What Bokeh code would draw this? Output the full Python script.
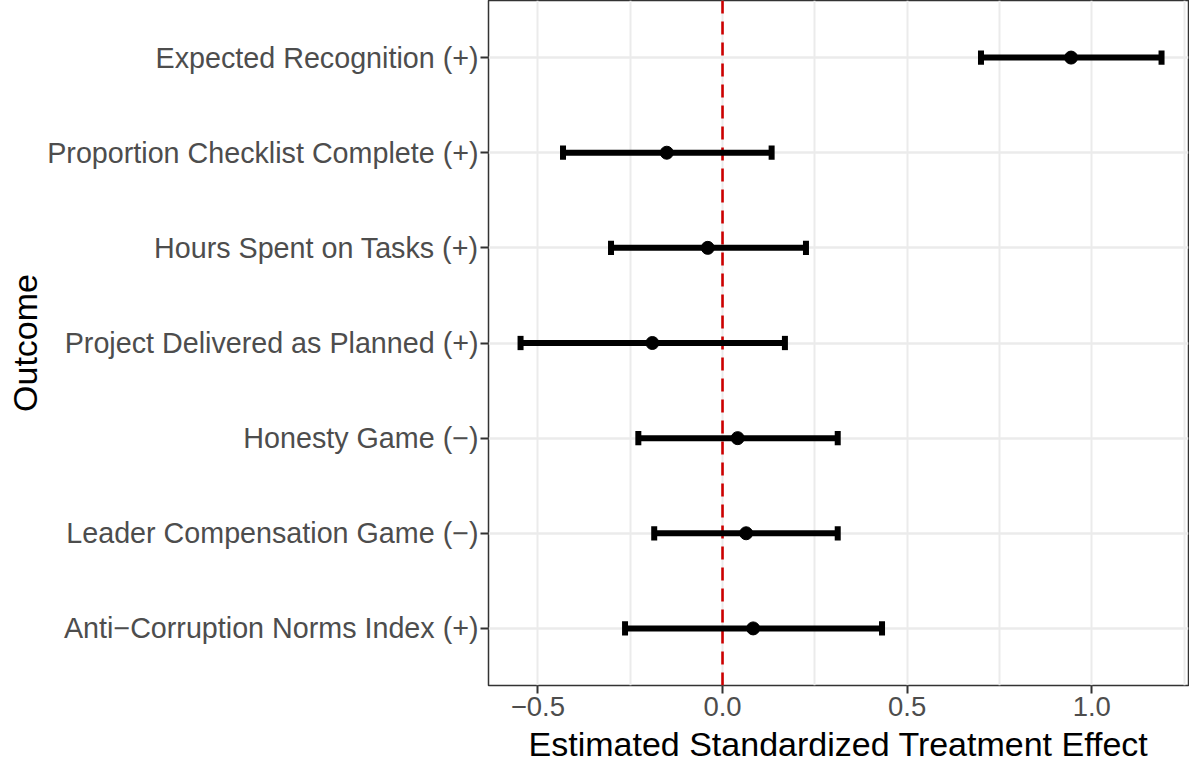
from bokeh.plotting import figure
from bokeh.models import Range1d, FixedTicker, Span, ColumnDataSource, CustomJSTickFormatter
from bokeh.embed import file_html
from bokeh.resources import INLINE

# ---- data ----
outcomes = [
    "Expected Recognition (+)",
    "Proportion Checklist Complete (+)",
    "Hours Spent on Tasks (+)",
    "Project Delivered as Planned (+)",
    "Honesty Game (\u2212)",
    "Leader Compensation Game (\u2212)",
    "Anti\u2212Corruption Norms Index (+)",
]
estimates = [0.944, -0.151, -0.040, -0.190, 0.041, 0.064, 0.083]
lower = [0.700, -0.432, -0.302, -0.547, -0.228, -0.185, -0.264]
upper = [1.189, 0.133, 0.226, 0.169, 0.312, 0.312, 0.432]
x_ticks = [-0.5, 0.0, 0.5, 1.0]
x_minor = [-0.25, 0.25, 0.75, 1.25]

# ---- layout helpers ----
n = len(outcomes)
ypos = list(range(n, 0, -1))
cap = 0.075

src = ColumnDataSource(dict(
    y=ypos, est=estimates, lo=lower, hi=upper,
    ylo=[v - cap for v in ypos], yhi=[v + cap for v in ypos],
))

span_x = max(upper) - min(lower)
p = figure(
    width=1189, height=765,
    x_range=Range1d(min(lower) - 0.05 * span_x, 1.262),
    y_range=Range1d(0.4, n + 0.6),
    output_backend="svg", toolbar_location=None,
    min_border_top=0, min_border_left=488, min_border_right=1, min_border_bottom=0,
    x_axis_label="Estimated Standardized Treatment Effect",
    y_axis_label="Outcome",
)
p.background_fill_color = "white"
p.border_fill_color = "white"
p.outline_line_color = "#333333"
p.outline_line_width = 1.5

# axes
p.xaxis.ticker = FixedTicker(ticks=x_ticks, minor_ticks=x_minor)
p.xaxis.formatter = CustomJSTickFormatter(
    code="return (tick < 0 ? '\\u2212' : '') + Math.abs(tick).toFixed(1);")
p.yaxis.ticker = FixedTicker(ticks=ypos, minor_ticks=[])
p.yaxis.formatter = CustomJSTickFormatter(
    args=dict(labels=outcomes),
    code="return labels[labels.length - Math.round(tick)];")

for ax in (p.xaxis[0], p.yaxis[0]):
    ax.axis_line_color = None
    ax.major_tick_line_color = "#333333"
    ax.major_tick_line_width = 2
    ax.major_tick_in = 0
    ax.major_tick_out = 8
    ax.minor_tick_line_color = None
    ax.major_label_text_font = "Liberation Sans"
    ax.major_label_text_color = "#4D4D4D"
    ax.axis_label_text_font = "Liberation Sans"
    ax.axis_label_text_font_style = "normal"
    ax.axis_label_text_color = "black"
    ax.axis_label_text_font_size = "34px"
    ax.major_label_standoff = 2

p.xaxis.major_label_text_font_size = "27.5px"
p.yaxis.major_label_text_font_size = "28.7px"
p.xaxis.major_label_standoff = 3
p.xaxis.axis_label_standoff = 6
p.yaxis.axis_label_standoff = 0

# grid
p.xgrid.grid_line_color = "#EBEBEB"
p.xgrid.grid_line_width = 2
p.xgrid.minor_grid_line_color = "#EBEBEB"
p.xgrid.minor_grid_line_width = 2
p.ygrid.grid_line_color = "#EBEBEB"
p.ygrid.grid_line_width = 2.5

# zero reference line
zero = Span(location=0, dimension="height", line_color="#CC0000",
            line_width=2.6, line_dash="13 8", level="underlay")
p.add_layout(zero)

# error bars
p.segment(x0="lo", y0="y", x1="hi", y1="y", source=src, line_color="black", line_width=6)
p.segment(x0="lo", y0="ylo", x1="lo", y1="yhi", source=src, line_color="black", line_width=6)
p.segment(x0="hi", y0="ylo", x1="hi", y1="yhi", source=src, line_color="black", line_width=6)
p.scatter(x="est", y="y", source=src, size=13, fill_color="black", line_color="black")

open("out.html", "w").write(file_html(p, INLINE))
